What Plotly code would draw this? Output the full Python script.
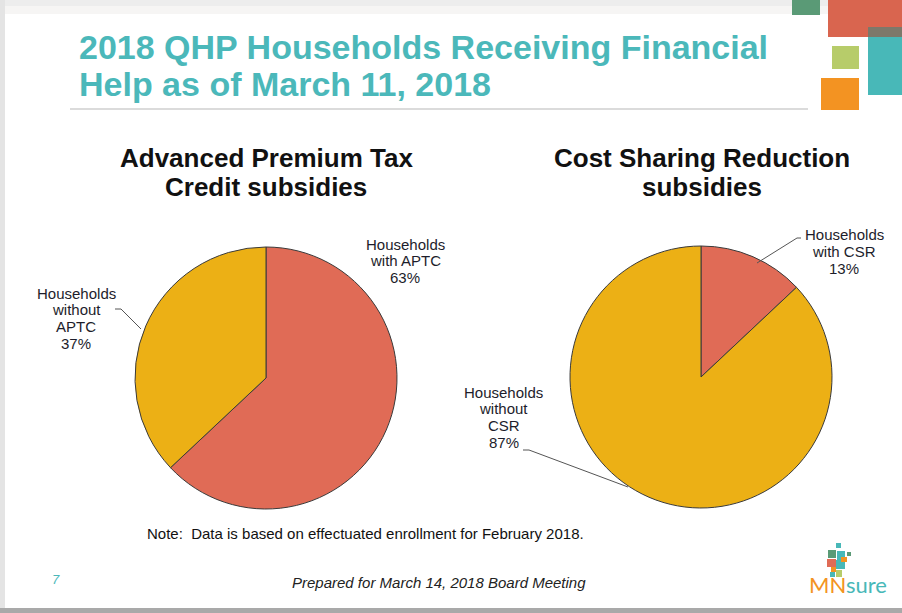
import plotly.graph_objects as go

W, H = 902, 613

# ---- data ----
aptc_labels = ["Households with APTC", "Households without APTC"]
aptc_values = [63, 37]
aptc_text = [["Households", "with APTC"], ["Households", "without", "APTC"]]

csr_labels = ["Households with CSR", "Households without CSR"]
csr_values = [13, 87]
csr_text = [["Households", "with CSR"], ["Households", "without", "CSR"]]

slice_colors = ["#E06B56", "#ECB015"]

title_lines = ["2018 QHP Households Receiving Financial", "Help as of March 11, 2018"]
aptc_title = ["Advanced Premium Tax", "Credit subsidies"]
csr_title = ["Cost Sharing Reduction", "subsidies"]
note_text = "Note:  Data is based on effectuated enrollment for February 2018."
footer_text = "Prepared for March 14, 2018 Board Meeting"
page_number = "7"


def px(x):
    return x / W


def py(y):
    return 1 - y / H


def pie_domain(cx, cy, r):
    return dict(x=[px(cx - r), px(cx + r)], y=[py(cy + r), py(cy - r)])


R = 131
fig = go.Figure()
fig.add_trace(go.Pie(
    labels=aptc_labels, values=aptc_values, sort=False, direction="clockwise",
    rotation=0, textinfo="none", hole=0,
    marker=dict(colors=slice_colors, line=dict(color="#3a3a3a", width=1)),
    domain=pie_domain(266, 378, R), showlegend=False,
))
fig.add_trace(go.Pie(
    labels=csr_labels, values=csr_values, sort=False, direction="clockwise",
    rotation=0, textinfo="none", hole=0,
    marker=dict(colors=slice_colors, line=dict(color="#3a3a3a", width=1)),
    domain=pie_domain(701, 377, R), showlegend=False,
))

shapes = []
# slide frame
shapes.append(dict(type="rect", xref="paper", yref="paper", x0=0, x1=1, y0=py(6), y1=1,
                   fillcolor="#ededed", line=dict(width=0), layer="below"))
shapes.append(dict(type="rect", xref="paper", yref="paper", x0=0, x1=1, y0=py(14), y1=py(6),
                   fillcolor="#f6f5f4", line=dict(width=0), layer="below"))
shapes.append(dict(type="rect", xref="paper", yref="paper", x0=0, x1=px(5), y0=0, y1=1,
                   fillcolor="#e4e4e4", line=dict(width=0), layer="below"))
shapes.append(dict(type="rect", xref="paper", yref="paper", x0=0, x1=1, y0=0, y1=py(608),
                   fillcolor="#a9a9a9", line=dict(width=0), layer="below"))
# title rule
shapes.append(dict(type="line", xref="paper", yref="paper", x0=px(70), x1=px(808), y0=py(109), y1=py(109),
                   line=dict(color="#cfcfcf", width=1.5)))


def box(x0, y0, x1, y1, color):
    shapes.append(dict(type="rect", xref="paper", yref="paper", x0=px(x0), x1=px(x1),
                       y0=py(y1), y1=py(y0), fillcolor=color, line=dict(width=0)))


# decorative squares
box(792, 0, 820, 15, "#5A9A76")
box(828, 0, 902, 37, "#D9654F")
box(868, 27, 902, 95, "#48B8B8")
box(868, 27, 902, 37, "#7d786a")
box(832, 46, 859, 69, "#B7CC6A")
box(821, 78, 859, 110, "#F39322")
# logo squares
box(836, 543, 841, 548, "#48B8B8")
box(828, 550, 836, 558, "#5A9A76")
box(837, 551, 845, 560, "#48B8B8")
box(847, 552, 851, 556, "#5A9A76")
box(827, 559, 836, 567, "#E06B56")
box(836, 560, 845, 569, "#48B8B8")
box(841, 557, 847, 562, "#F39322")
box(831, 567, 836, 572, "#F39322")
box(836, 570, 842, 577, "#B7CC6A")
box(830, 572, 835, 577, "#48B8B8")


def path(points):
    d = "M " + " L ".join(f"{px(x)} {py(y)}" for x, y in points)
    shapes.append(dict(type="path", xref="paper", yref="paper", path=d,
                       line=dict(color="#555555", width=1)))


# leader lines
path([(115, 309), (121, 309), (141, 329)])
path([(801, 238), (797, 238), (757, 263)])
path([(523, 450), (529, 450), (628, 487)])

ann = []
SANS = "Liberation Sans, Arial, sans-serif"
font_lbl = dict(family=SANS, size=15, color="#1d1d2b")


def text(x, y, t, font, xanchor="center", yanchor="middle", align="center"):
    ann.append(dict(xref="paper", yref="paper", x=px(x), y=py(y), text=t, showarrow=False,
                    font=font, xanchor=xanchor, yanchor=yanchor, align=align))


def block(x, y0, lines, font, step, xanchor="center"):
    for i, ln in enumerate(lines):
        text(x, y0 + i * step, ln, font, xanchor=xanchor)


title_font = dict(family=SANS, size=34, color="#4BB8BA", weight="bold")
block(77, 47, title_lines, title_font, 37, xanchor="left")

sub_font = dict(family=SANS, size=26, color="#111111", weight="bold")
block(266, 158, aptc_title, sub_font, 29)
block(702, 158, csr_title, sub_font, 29)

block(405, 244, aptc_text[0] + [f"{aptc_values[0]}%"], font_lbl, 16.8)
block(76, 293, aptc_text[1] + [f"{aptc_values[1]}%"], font_lbl, 16.8)
block(844, 235, csr_text[0] + [f"{csr_values[0]}%"], font_lbl, 16.8)
block(504, 392, csr_text[1] + [f"{csr_values[1]}%"], font_lbl, 16.8)

text(145, 533, note_text, dict(family=SANS, size=15, color="#111111"), xanchor="left")
text(439, 582, "<i>" + footer_text + "</i>", dict(family=SANS, size=15, color="#222222"))
text(56, 579, "<i>" + page_number + "</i>", dict(family=SANS, size=13, color="#4BB8BA"))
text(848, 584, "<span style='color:#F39322'>MN</span><span style='color:#48B8B8'>sure</span>",
     dict(family="Lato, Liberation Sans, sans-serif", size=22, color="#48B8B8"))

fig.update_layout(
    width=W, height=H, margin=dict(l=0, r=0, t=0, b=0),
    paper_bgcolor="white", plot_bgcolor="white",
    shapes=shapes, annotations=ann,
)
fig.write_html("out.html", config={"displayModeBar": False},
               post_script="document.body.style.margin='0';document.body.style.overflow='hidden';")
